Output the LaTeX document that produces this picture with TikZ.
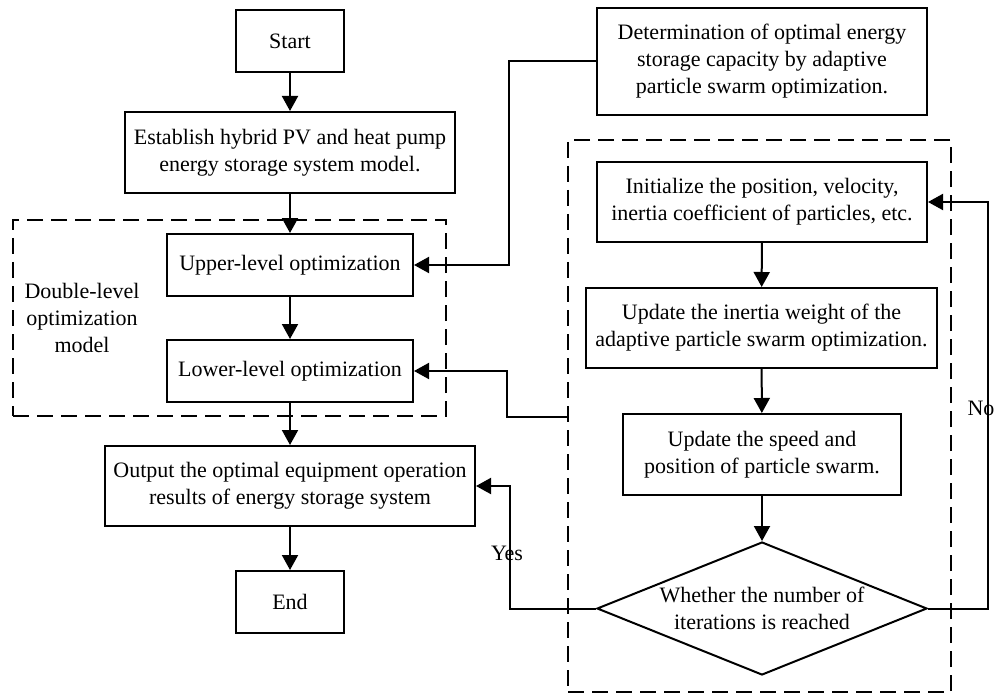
\documentclass[tikz,border=0pt]{standalone}
\usepackage{fontspec}
\setmainfont{Liberation Serif}
\usetikzlibrary{arrows.meta,shapes.geometric}

\begin{document}
\begin{tikzpicture}[x=0.5pt,y=-0.5pt,
    font=\fontsize{11pt}{13.5pt}\selectfont,
    box/.style={draw,line width=1pt,align=center,inner sep=2pt},
    dashframe/.style={draw,dash pattern=on 8pt off 4pt,line width=0.7pt},
    conn/.style={line width=1pt,-{Triangle[length=7.5pt,width=8pt]}}]
  \useasboundingbox (0,0) rectangle (994,695);

  % dashed frames
  \node[dashframe,minimum width=216.5pt,minimum height=98pt] (bilevel) at (229.5,318) {};
  \node[dashframe,minimum width=191.5pt,minimum height=276pt] (psoframe) at (759.5,416) {};
  \node[align=center] (bilabel) at (82,318) {Double-level\\optimization\\model};

  % main flow
  \node[box,minimum width=54pt,minimum height=31pt] (start) at (290,41) {Start};
  \node[box,minimum width=165pt,minimum height=40.5pt] (model) at (290,152.5)
      {Establish hybrid PV and heat pump\\energy storage system model.};
  \node[box,minimum width=123pt,minimum height=31pt] (upper) at (290,265) {Upper-level optimization};
  \node[box,minimum width=123pt,minimum height=31pt] (lower) at (290,371) {Lower-level optimization};
  \node[box,minimum width=185pt,minimum height=40pt] (output) at (290,486)
      {Output the optimal equipment operation\\results of energy storage system};
  \node[box,minimum width=54pt,minimum height=31pt] (stop) at (290,602) {End};

  % particle swarm part
  \node[box,minimum width=165pt,minimum height=53.5pt] (determ) at (762,61.5)
      {Determination of optimal energy\\storage capacity by adaptive\\particle swarm optimization.};
  \node[box,minimum width=165pt,minimum height=40pt] (init) at (762,202)
      {Initialize the position, velocity,\\inertia coefficient of particles, etc.};
  \node[box,minimum width=175.5pt,minimum height=40pt] (inertia) at (761.5,328)
      {Update the inertia weight of the\\adaptive particle swarm optimization.};
  \node[box,minimum width=139pt,minimum height=40.5pt] (speed) at (762,454.5)
      {Update the speed and\\position of particle swarm.};
  \node[draw,diamond,aspect=2.5,inner sep=0pt,line width=1pt,align=center,
      minimum width=165pt,minimum height=66.5pt] (judge) at (762,608.5)
      {Whether the number of\\iterations is reached};

  \node (yes) at (507,553) {Yes};
  \node (no) at (981,408) {No};

  \coordinate (upbend) at (509,265);
  \coordinate (lowbend) at (507,417);
  \coordinate (yesbend) at (510,608.5);
  \coordinate (nobend) at (988,608.5);

  \draw[conn] (start) -- (model);
  \draw[conn] (model) -- (upper);
  \draw[conn] (upper) -- (lower);
  \draw[conn] (lower) -- (output);
  \draw[conn] (output) -- (stop);

  \draw[conn] (init) -- (inertia);
  \draw[conn] (inertia) -- (speed);
  \draw[conn] (speed) -- (judge);

  \draw[conn] (determ.west) -| (upbend) -- (upper.east);
  \draw[conn] (psoframe.west |- lowbend) -- (lowbend) |- (lower.east);
  \draw[conn] (judge.west) -- (yesbend) |- (output.east);
  \draw[conn] (judge.east) -- (nobend) |- (init.east);
\end{tikzpicture}
\end{document}
